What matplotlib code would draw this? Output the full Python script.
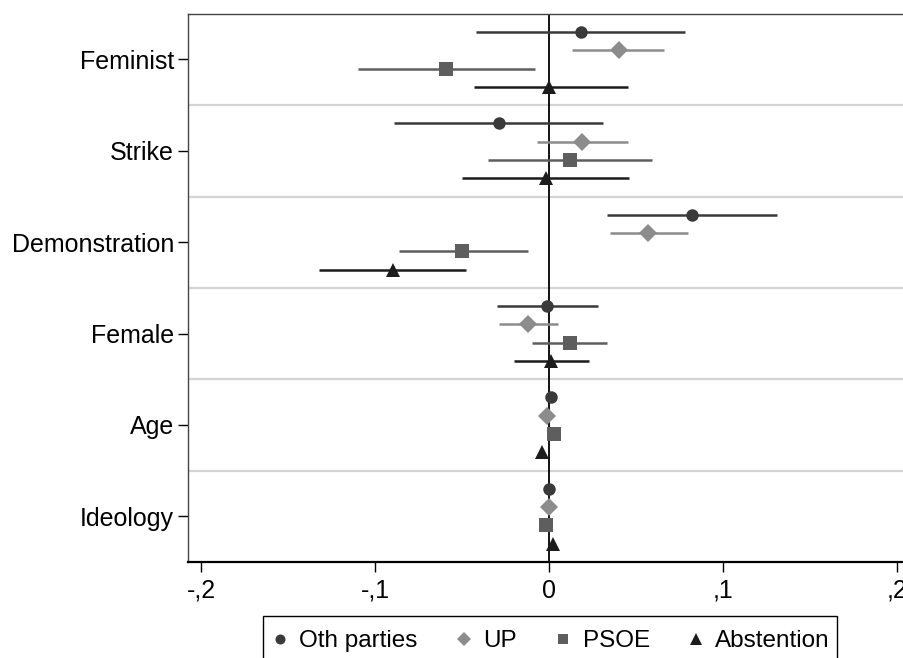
import numpy as np
import matplotlib
matplotlib.use("Agg")
import matplotlib.pyplot as plt
from matplotlib.ticker import FuncFormatter
from matplotlib.patches import Rectangle

# ===================================
# Data (coefficients and 95% CIs)
# ===================================

variables = ["Feminist", "Strike", "Demonstration", "Female", "Age", "Ideology"]
series = ["Oth parties", "UP", "PSOE", "Abstention"]

oth_coef = [0.018, -0.029, 0.082, -0.001, 0.001, 0.000]
oth_lo = [-0.042, -0.089, 0.033, -0.030, 0.000, -0.001]
oth_hi = [0.078, 0.031, 0.131, 0.028, 0.002, 0.001]

up_coef = [0.040, 0.019, 0.057, -0.012, -0.001, 0.000]
up_lo = [0.013, -0.007, 0.035, -0.029, -0.002, -0.001]
up_hi = [0.066, 0.045, 0.080, 0.005, 0.000, 0.001]

psoe_coef = [-0.059, 0.012, -0.050, 0.012, 0.003, -0.002]
psoe_lo = [-0.110, -0.035, -0.086, -0.010, 0.002, -0.003]
psoe_hi = [-0.008, 0.059, -0.012, 0.033, 0.004, -0.001]

abst_coef = [0.000, -0.002, -0.090, 0.001, -0.004, 0.002]
abst_lo = [-0.043, -0.050, -0.132, -0.020, -0.005, 0.001]
abst_hi = [0.045, 0.046, -0.048, 0.023, -0.003, 0.003]

x_ticks = [-0.2, -0.1, 0, 0.1, 0.2]

# ===================================
# Styles
# ===================================

coefs = [oth_coef, up_coef, psoe_coef, abst_coef]
los = [oth_lo, up_lo, psoe_lo, abst_lo]
his = [oth_hi, up_hi, psoe_hi, abst_hi]
markers = ["o", "D", "s", "^"]
msizes = [9, 9.5, 9.5, 10]
colors = ["#3a3a3a", "#8c8c8c", "#5e5e5e", "#1c1c1c"]
offsets = [-0.3, -0.1, 0.1, 0.3]

plt.rcParams["font.family"] = ["Liberation Sans", "DejaVu Sans"]

fig = plt.figure(figsize=(9.04, 6.58), dpi=100)
ax = fig.add_axes([0.208, 0.146, 0.799, 0.833])

pos = np.arange(len(variables))

# separators between groups
for k in range(len(variables) - 1):
    ax.axhline(k + 0.5, color="#d4d4d4", lw=1.6, zorder=0)

ax.axvline(0, color="black", lw=1.3, zorder=1)

for i in range(4):
    y = pos + offsets[i]
    c = np.array(coefs[i])
    lo = np.array(los[i])
    hi = np.array(his[i])
    ax.hlines(y, lo, hi, color=colors[i], lw=1.8, zorder=2)
    ax.plot(c, y, linestyle="none", marker=markers[i], ms=msizes[i],
            color=colors[i], markeredgewidth=0, zorder=3, label=series[i])

ax.set_ylim(len(variables) - 0.5, -0.5)
ax.set_xlim(-0.2075, 0.2075)
ax.set_yticks(pos)
ax.set_yticklabels(variables, fontsize=18)
ax.set_xticks(x_ticks)


def comma_fmt(v, p):
    if abs(v) < 1e-9:
        return "0"
    s = "%.1f" % v
    return s.replace("0.", ",")


ax.xaxis.set_major_formatter(FuncFormatter(comma_fmt))
ax.tick_params(axis="x", labelsize=18, length=7, width=1, pad=5, direction="out")
ax.tick_params(axis="y", length=7, width=1, pad=3, direction="out")

for side in ["top", "right", "left"]:
    ax.spines[side].set_color("#444444")
    ax.spines[side].set_linewidth(1.0)
ax.spines["bottom"].set_color("black")
ax.spines["bottom"].set_linewidth(1.6)

# ===================================
# Legend (box cut by the bottom edge)
# ===================================

leg = fig.legend(
    loc="center",
    bbox_to_anchor=(550 / 904, 1 - 641 / 658),
    ncol=4,
    fontsize=17.5,
    frameon=False,
    markerscale=0.8,
    handlelength=0.8,
    handletextpad=0.4,
    columnspacing=1.5,
    borderpad=0.0,
    borderaxespad=0.0,
)

fig.canvas.draw()
bb = leg.get_window_extent().transformed(fig.transFigure.inverted())
pad_x = 7 / 904
top = 1 - 616 / 658
fig.patches.append(Rectangle((bb.x0 - pad_x, -0.05), bb.width + 2 * pad_x, top + 0.05,
                             transform=fig.transFigure, fill=False,
                             edgecolor="black", lw=1.0))

plt.savefig("out.png", dpi=100)
